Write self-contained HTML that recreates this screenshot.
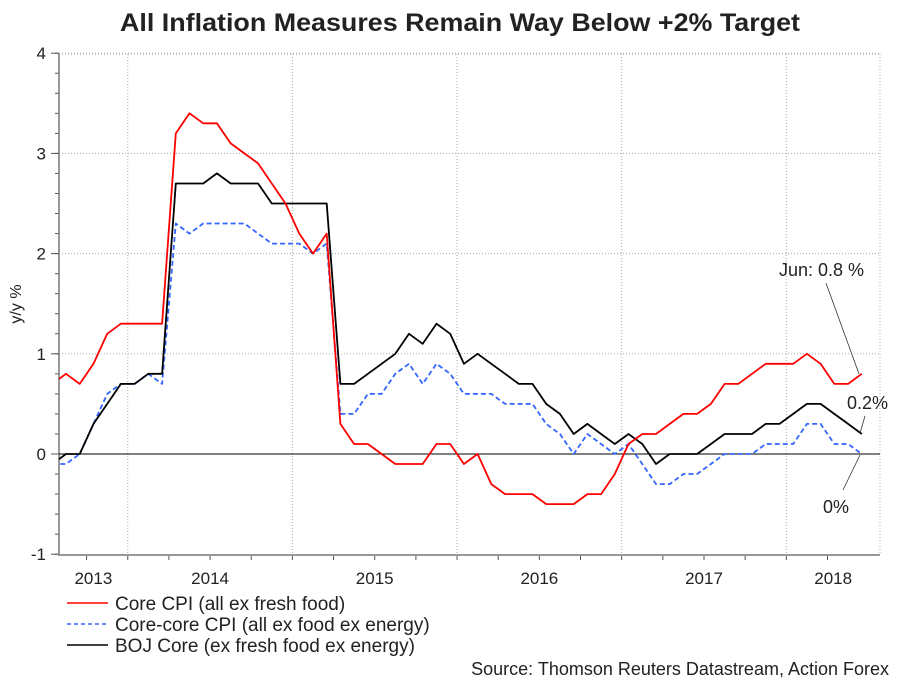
<!DOCTYPE html>
<html><head><meta charset="utf-8"><style>
body{margin:0;background:#fff;}
svg{display:block;font-family:"Liberation Sans",Arial,sans-serif;}
</style></head><body>
<svg id="chart" width="909" height="682" viewBox="0 0 909 682">
<text x="460" y="31" text-anchor="middle" font-size="25" font-weight="bold" fill="#222" textLength="680" lengthAdjust="spacingAndGlyphs">All Inflation Measures Remain Way Below +2% Target</text>
<text transform="translate(21,304) rotate(-90)" text-anchor="middle" font-size="16" fill="#222">y/y %</text>
<defs><clipPath id="pc"><rect x="59" y="40" width="821" height="520"/></clipPath></defs>
<g id="grid"></g>
<g id="axes"></g>
<g id="series" clip-path="url(#pc)"></g>
<g>
<text x="779" y="276" font-size="18" fill="#222">Jun: 0.8 %</text>
<line x1="826" y1="283" x2="859" y2="374" stroke="#333" stroke-width="0.8"/>
<text x="847" y="409" font-size="18" fill="#222">0.2%</text>
<line x1="865" y1="416" x2="860" y2="433" stroke="#333" stroke-width="0.8"/>
<text x="823" y="513" font-size="18" fill="#222">0%</text>
<line x1="860" y1="455" x2="843" y2="490" stroke="#333" stroke-width="0.8"/>
</g>
<g>
<line x1="67" y1="603" x2="108" y2="603" stroke="#f00" stroke-width="1.5"/>
<text x="115" y="610" font-size="19" fill="#222">Core CPI (all ex fresh food)</text>
<line x1="67" y1="624" x2="108" y2="624" stroke="#3366ff" stroke-width="1.5" stroke-dasharray="4,3"/>
<text x="115" y="631" font-size="19" fill="#222">Core-core CPI (all ex food ex energy)</text>
<line x1="67" y1="645" x2="108" y2="645" stroke="#000" stroke-width="1.5"/>
<text x="115" y="652" font-size="19" fill="#222">BOJ Core (ex fresh food ex energy)</text>
</g>
<text x="889" y="675" text-anchor="end" font-size="18" fill="#222">Source: Thomson Reuters Datastream, Action Forex</text>
</svg>
<script>
// Monthly data, Jul 2013 .. Jun 2018
const startMonth = "2013-07";
const coreCPI = [0.7,0.8,0.7,0.9,1.2,1.3, 1.3,1.3,1.3,3.2,3.4,3.3,3.3,3.1,3.0,2.9,2.7,2.5, 2.2,2.0,2.2,0.3,0.1,0.1,0.0,-0.1,-0.1,-0.1,0.1,0.1, -0.1,0.0,-0.3,-0.4,-0.4,-0.4,-0.5,-0.5,-0.5,-0.4,-0.4,-0.2, 0.1,0.2,0.2,0.3,0.4,0.4,0.5,0.7,0.7,0.8,0.9,0.9, 0.9,1.0,0.9,0.7,0.7,0.8];
const coreCoreCPI = [-0.1,-0.1,0.0,0.3,0.6,0.7, 0.7,0.8,0.7,2.3,2.2,2.3,2.3,2.3,2.3,2.2,2.1,2.1, 2.1,2.0,2.1,0.4,0.4,0.6,0.6,0.8,0.9,0.7,0.9,0.8, 0.6,0.6,0.6,0.5,0.5,0.5,0.3,0.2,0.0,0.2,0.1,0.0, 0.1,-0.1,-0.3,-0.3,-0.2,-0.2,-0.1,0.0,0.0,0.0,0.1,0.1, 0.1,0.3,0.3,0.1,0.1,0.0];
const bojCore = [-0.1,0.0,0.0,0.3,0.5,0.7, 0.7,0.8,0.8,2.7,2.7,2.7,2.8,2.7,2.7,2.7,2.5,2.5, 2.5,2.5,2.5,0.7,0.7,0.8,0.9,1.0,1.2,1.1,1.3,1.2, 0.9,1.0,0.9,0.8,0.7,0.7,0.5,0.4,0.2,0.3,0.2,0.1, 0.2,0.1,-0.1,0.0,0.0,0.0,0.1,0.2,0.2,0.2,0.3,0.3, 0.4,0.5,0.5,0.4,0.3,0.2];
const yTicks = [-1,0,1,2,3,4];
const yearLabels = ["2013","2014","2015","2016","2017","2018"];

const NS = "http://www.w3.org/2000/svg";
const X0 = 52.3, DX = 13.72, LEFT = 59, RIGHT = 880;
const xScale = i => X0 + i * DX;
const yScale = v => 454 - v * 100.2;
function mk(tag, attrs, parent){ const e=document.createElementNS(NS,tag); for(const k in attrs) e.setAttribute(k,attrs[k]); parent.appendChild(e); return e; }
const grid=document.getElementById('grid'), axes=document.getElementById('axes'), series=document.getElementById('series');

yTicks.forEach(t=>{
  if(t===0||t===-1) return;
  const l=mk('line',{x1:LEFT,x2:RIGHT,y1:yScale(t),y2:yScale(t),stroke:'#aaa','stroke-width':1,'stroke-dasharray':'1,2'},grid);
  
  
});
for(let k=-5;k<=20;k++){
  const y=yScale(k*0.2);
  mk('line',{x1:LEFT-4,x2:LEFT,y1:y,y2:y,stroke:'#555','stroke-width':1},axes);
}
yTicks.forEach(t=>{
  const y=yScale(t);
  mk('line',{x1:LEFT-8,x2:LEFT,y1:y,y2:y,stroke:'#555','stroke-width':1},axes);
  const tx=mk('text',{x:LEFT-13,y:y+6,'text-anchor':'end','font-size':17,fill:'#222'},axes);
  tx.textContent=String(t);
  
  
});
const n=coreCPI.length;
for(let i=0;i<n;i++){
  const bx=xScale(i)-DX/2;
  if(bx<LEFT) continue;
  const month=(6+i)%12;
  if(month===0){
    const g=mk('line',{x1:bx,x2:bx,y1:54,y2:555,stroke:'#aaa','stroke-width':1,'stroke-dasharray':'1,2'},grid);
    
    
  }
  if(month%3===0) mk('line',{x1:bx,x2:bx,y1:555,y2:560,stroke:'#555','stroke-width':1},axes);
}
yearLabels.forEach((yr,k)=>{
  const jan=6+12*(k-1);
  let a=xScale(jan)-DX/2, b=a+12*DX;
  a=Math.max(a,LEFT); b=Math.min(b,RIGHT);
  const t=mk('text',{x:(a+b)/2,y:584,'text-anchor':'middle','font-size':17,fill:'#222'},axes);
  t.textContent=yr;
  
  
});
mk('line',{x1:LEFT,x2:RIGHT,y1:54,y2:54,stroke:'#aaa','stroke-width':1,'stroke-dasharray':'1,2'},grid);
mk('line',{x1:RIGHT,x2:RIGHT,y1:54,y2:555,stroke:'#aaa','stroke-width':1,'stroke-dasharray':'1,2'},grid);
mk('line',{x1:LEFT,x2:LEFT,y1:54,y2:556,stroke:'#777','stroke-width':1.5},axes);
mk('line',{x1:LEFT,x2:RIGHT,y1:555,y2:555,stroke:'#999','stroke-width':2},axes);
const z=mk('line',{x1:LEFT,x2:RIGHT,y1:yScale(0),y2:yScale(0),stroke:'#000','stroke-width':1},axes);



function drawLine(vals,color,dash,name){
  const d=vals.map((v,i)=>(i?'L':'M')+xScale(i).toFixed(1)+','+yScale(v).toFixed(1)).join(' ');
  const p=mk('path',{d:d,fill:'none',stroke:color,'stroke-width':1.8,'stroke-linejoin':'round'},series);
  if(dash) p.setAttribute('stroke-dasharray',dash);
  
  
}
drawLine(coreCoreCPI,'#3366ff','5,3','core-core-cpi-line');
drawLine(bojCore,'#000','', 'boj-core-line');
drawLine(coreCPI,'#f00','', 'core-cpi-line');
</script>
</body></html>
